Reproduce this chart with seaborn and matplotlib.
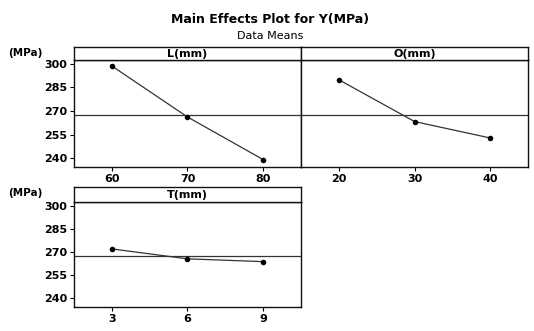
import matplotlib
matplotlib.use("Agg")
import matplotlib.pyplot as plt
import seaborn as sns
import pandas as pd

sns.set_theme(style="white")
plt.rcParams['font.family'] = ['DejaVu Sans']
plt.rcParams['text.color'] = 'black'
plt.rcParams['xtick.color'] = 'black'
plt.rcParams['ytick.color'] = 'black'

# Data
factors = ["L(mm)", "O(mm)", "T(mm)"]
L_levels = [60, 70, 80]
L_means = [298.5, 266.2, 239.2]
O_levels = [20, 30, 40]
O_means = [289.8, 263.3, 252.9]
T_levels = [3, 6, 9]
T_means = [272.0, 265.6, 263.8]
grand_mean = 267.5
y_ticks = [240, 255, 270, 285, 300]
y_label = "(MPa)"
title = "Main Effects Plot for Y(MPa)"
subtitle = "Data Means"

W, H = 534, 331
fig = plt.figure(figsize=(W / 100, H / 100), dpi=100)
fig.patch.set_facecolor("white")

def px_rect(x0, y0, x1, y1):
    return [x0 / W, 1 - y1 / H, (x1 - x0) / W, (y1 - y0) / H]

panels = [
    (factors[0], L_levels, L_means, (74, 60, 301, 167), 47, True),
    (factors[1], O_levels, O_means, (301, 60, 528, 167), 47, False),
    (factors[2], T_levels, T_means, (74, 202, 301, 307), 187, True),
]

for name, levels, means, (x0, y0, x1, y1), st, show_y in panels:
    ax = fig.add_axes(px_rect(x0, y0, x1, y1))
    df = pd.DataFrame({"level": levels, "mean": means})
    ax.axhline(grand_mean, color="#333333", lw=0.9, zorder=1)
    sns.lineplot(data=df, x="level", y="mean", ax=ax, color="#333333",
                 lw=0.9, marker="o", markersize=4, markeredgewidth=0,
                 markerfacecolor="black", zorder=3)
    step = levels[1] - levels[0]
    ax.set_xlim(levels[0] - step / 2, levels[-1] + step / 2)
    ax.set_ylim(234.5, 302.3)
    ax.set_xticks(levels)
    ax.set_xlabel("")
    ax.set_ylabel("")
    for s in ax.spines.values():
        s.set_color("#111111")
        s.set_linewidth(1.0)
    ax.tick_params(axis="x", direction="out", length=3, width=0.8,
                   colors="black", labelsize=8, pad=2, bottom=True)
    for lab in ax.get_xticklabels():
        lab.set_fontweight("bold")
    ax.set_yticks(y_ticks)
    if show_y:
        ax.tick_params(axis="y", direction="out", length=3, width=0.8,
                       colors="black", labelsize=8, pad=2, left=True)
        for lab in ax.get_yticklabels():
            lab.set_fontweight("bold")
    else:
        ax.tick_params(axis="y", left=False, labelleft=False)
    ax.set_facecolor("white")
    # strip
    sax = fig.add_axes(px_rect(x0, st, x1, y0))
    sax.set_xticks([])
    sax.set_yticks([])
    for s in sax.spines.values():
        s.set_color("#111111")
        s.set_linewidth(1.0)
    sax.text(0.5, 0.45, name, ha="center", va="center", fontsize=8,
             fontweight="bold", color="black", transform=sax.transAxes)

fig.text(270 / W, 1 - 20 / H, title, ha="center", va="center",
         fontsize=9, fontweight="bold", color="black")
fig.text(270 / W, 1 - 36 / H, subtitle, ha="center", va="center",
         fontsize=8, color="black")
fig.text(25 / W, 1 - 53 / H, y_label, ha="center", va="center",
         fontsize=7.5, fontweight="bold", color="black")
fig.text(25 / W, 1 - 193 / H, y_label, ha="center", va="center",
         fontsize=7.5, fontweight="bold", color="black")

fig.savefig("out.png", dpi=100, facecolor="white")
